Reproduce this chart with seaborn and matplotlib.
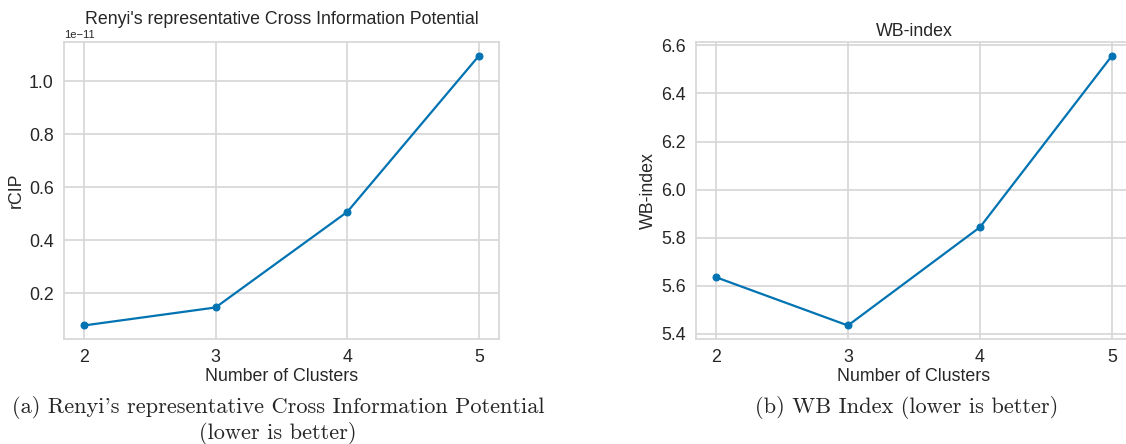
import numpy as np
import pandas as pd
import matplotlib
matplotlib.use("Agg")
import matplotlib.pyplot as plt
import seaborn as sns

# values
clusters = [2, 3, 4, 5]
rcip = [0.079e-11, 0.147e-11, 0.508e-11, 1.098e-11]
wb_index = [5.636, 5.435, 5.844, 6.558]

sns.set_style("whitegrid")
plt.rcParams['font.family'] = ['Liberation Sans', 'DejaVu Sans']
blue = sns.color_palette("colorblind")[0]
fs = 12.8

fig = plt.figure(figsize=(11.26, 4.44), dpi=100)
ax1 = fig.add_axes([0.0568, 0.2365, 0.3863, 0.6689])
ax2 = fig.add_axes([0.6181, 0.2365, 0.3872, 0.6689])

df = pd.DataFrame({"clusters": clusters, "rcip": rcip, "wb": wb_index})

#left panel
sns.lineplot(data=df, x="clusters", y="rcip", ax=ax1, color=blue, marker="o",
             markersize=5, markeredgecolor=blue, linewidth=1.6)
ax1.set_title("Renyi's representative Cross Information Potential", fontsize=fs, pad=4)
ax1.set_ylabel("rCIP", fontsize=fs, labelpad=3)
ax1.yaxis.get_offset_text().set_fontsize(8)

#right panel
sns.lineplot(data=df, x="clusters", y="wb", ax=ax2, color=blue, marker="o",
             markersize=5, markeredgecolor=blue, linewidth=1.6)
ax2.set_title("WB-index", fontsize=fs, pad=4)
ax2.set_ylabel("WB-index", fontsize=fs, labelpad=3)

for ax in [ax1, ax2]:
    ax.set_xticks(clusters)
    ax.set_xlabel("Number of Clusters", fontsize=fs, labelpad=1)
    ax.tick_params(axis="both", labelsize=fs, pad=4)
    ax.grid(True, color="#d6d6d6", linewidth=1.2)
    for s in ax.spines.values():
        s.set_color("#d6d6d6")
        s.set_linewidth(1.2)

#captions
cap = dict(ha="center", va="top", fontsize=16.1, family=["cmr10", "DejaVu Serif"],
           linespacing=1.15)
fig.text(278 / 1126, 1 - 396 / 444,
         "(a) Renyi's representative Cross Information Potential\n(lower is better)", **cap)
fig.text(907 / 1126, 1 - 396 / 444, "(b) WB Index (lower is better)", **cap)

fig.savefig("out.png", dpi=100)
